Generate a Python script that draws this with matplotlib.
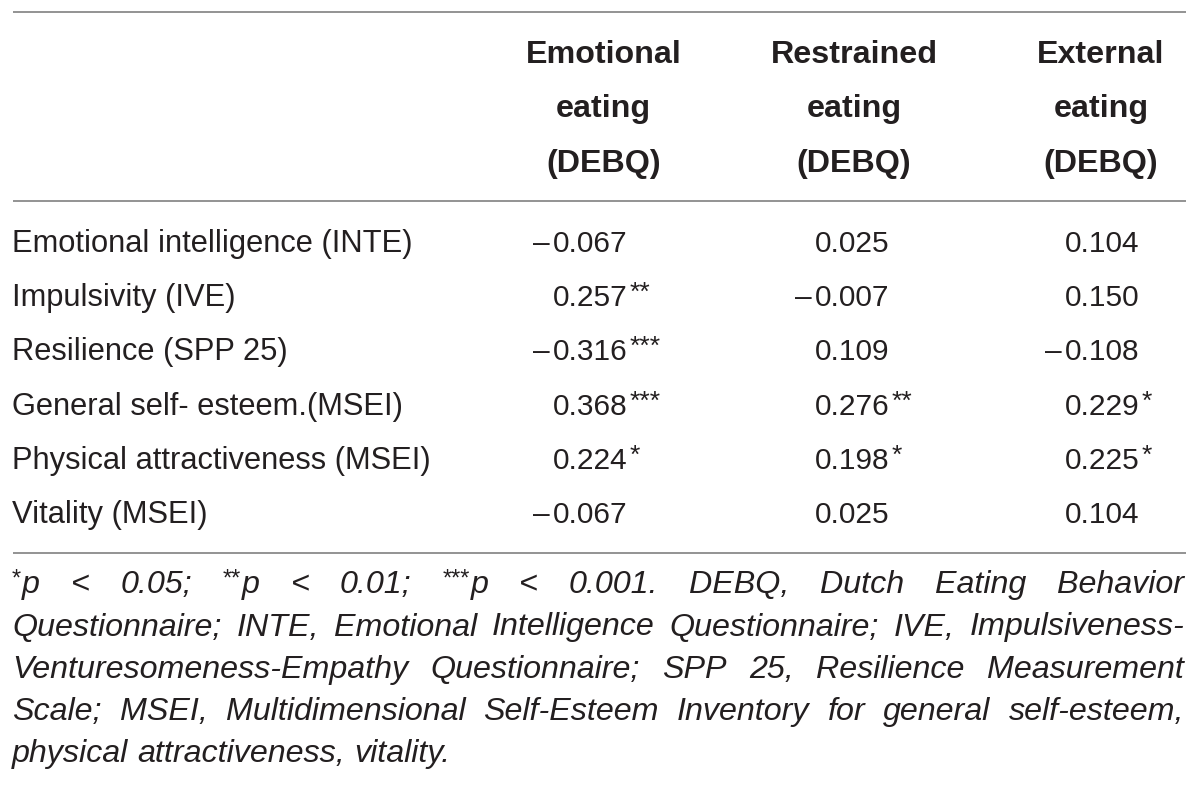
import matplotlib
matplotlib.use("Agg")
import matplotlib.pyplot as plt

# ---- data ----
row_labels = [
    "Emotional intelligence (INTE)",
    "Impulsivity (IVE)",
    "Resilience (SPP 25)",
    "General self- esteem.(MSEI)",
    "Physical attractiveness (MSEI)",
    "Vitality (MSEI)",
]
col_headers = [
    ["Emotional", "eating", "(DEBQ)"],
    ["Restrained", "eating", "(DEBQ)"],
    ["External", "eating", "(DEBQ)"],
]
emotional = [-0.067, 0.257, -0.316, 0.368, 0.224, -0.067]
restrained = [0.025, -0.007, 0.109, 0.276, 0.198, 0.025]
external = [0.104, 0.150, -0.108, 0.229, 0.225, 0.104]
emotional_sig = ["", "**", "***", "***", "*", ""]
restrained_sig = ["", "", "", "**", "*", ""]
external_sig = ["", "", "", "*", "*", ""]
footnote_lines = [
    "*p < 0.05; **p < 0.01; ***p < 0.001. DEBQ, Dutch Eating Behavior",
    "Questionnaire; INTE, Emotional Intelligence Questionnaire; IVE, Impulsiveness-",
    "Venturesomeness-Empathy Questionnaire; SPP 25, Resilience Measurement",
    "Scale; MSEI, Multidimensional Self-Esteem Inventory for general self-esteem,",
    "physical attractiveness, vitality.",
]

# ---- layout ----
W, H = 1200, 785
FONT = "Liberation Sans"
TXT = "#231f20"
LINE = "#8a8a8a"
BODY_FS = 22.2
NUM_FS = 21.5
HEAD_FS = 23.2
NOTE_FS = 23.2
STAR_FS = 19

fig = plt.figure(figsize=(W / 100, H / 100), dpi=100)
ax = fig.add_axes([0, 0, 1, 1])
ax.set_xlim(0, W)
ax.set_ylim(H, 0)
ax.axis("off")
renderer = fig.canvas.get_renderer()

def width(t):
    return t.get_window_extent(renderer).width

# rules
for yy in (12, 201, 552.5):
    ax.plot([12.5, 1186], [yy, yy], color=LINE, lw=1.3, solid_capstyle="butt")

# header
col_centers = [603.5, 854, 1101]
head_baselines = [63, 117, 172]
for cx, lines in zip(col_centers, col_headers):
    for yb, s in zip(head_baselines, lines):
        ax.text(cx, yb, s, ha="center", va="baseline", fontsize=HEAD_FS,
                fontweight="bold", family=FONT, color=TXT)

# body
row_baselines = [252, 306, 360, 415, 469, 523]
digit_left = [553, 815, 1065]
columns = [(emotional, emotional_sig), (restrained, restrained_sig), (external, external_sig)]
for i, lab in enumerate(row_labels):
    yb = row_baselines[i]
    ax.text(12, yb, lab, ha="left", va="baseline", fontsize=BODY_FS, family=FONT, color=TXT)
    for (vals, sigs), x0 in zip(columns, digit_left):
        v = vals[i]
        t = ax.text(x0, yb, f"{abs(v):.3f}", ha="left", va="baseline",
                    fontsize=NUM_FS, family=FONT, color=TXT)
        if v < 0:
            ax.text(x0 - 3, yb, "\u2013", ha="right", va="baseline",
                    fontsize=NUM_FS, family=FONT, color=TXT)
        if sigs[i]:
            ax.text(x0 + width(t) + 2, yb - 6, sigs[i], ha="left", va="baseline",
                    fontsize=STAR_FS, family=FONT, color=TXT)

# footnote (justified)
note_baselines = [593, 635.5, 678, 720, 762]
left, right = 12, 1184

def draw_word(x, yb, w, measure_only=False):
    objs = []
    stars = ""
    while w.startswith("*"):
        stars += "*"
        w = w[1:]
    total = 0
    if stars:
        t = ax.text(x, yb - 7, stars, ha="left", va="baseline", fontsize=STAR_FS - 2,
                    family=FONT, color=TXT)
        total += width(t) + 1
        objs.append(t)
    t = ax.text(x + total, yb, w, ha="left", va="baseline", fontsize=NOTE_FS,
                family=FONT, style="italic", color=TXT)
    total += width(t)
    objs.append(t)
    if measure_only:
        for o in objs:
            o.remove()
    return total

for li, (line, yb) in enumerate(zip(footnote_lines, note_baselines)):
    words = line.split(" ")
    widths = [draw_word(0, yb, w, measure_only=True) for w in words]
    last = li == len(footnote_lines) - 1
    if last:
        t1 = ax.text(0, 0, "a a", fontsize=NOTE_FS, family=FONT, style="italic")
        t2 = ax.text(0, 0, "aa", fontsize=NOTE_FS, family=FONT, style="italic")
        sp = width(t1) - width(t2)
        t1.remove()
        t2.remove()
    else:
        sp = (right - left - sum(widths)) / (len(words) - 1)
    x = left
    for w, ww in zip(words, widths):
        draw_word(x, yb, w)
        x += ww + sp

fig.savefig("out.png", dpi=100)
